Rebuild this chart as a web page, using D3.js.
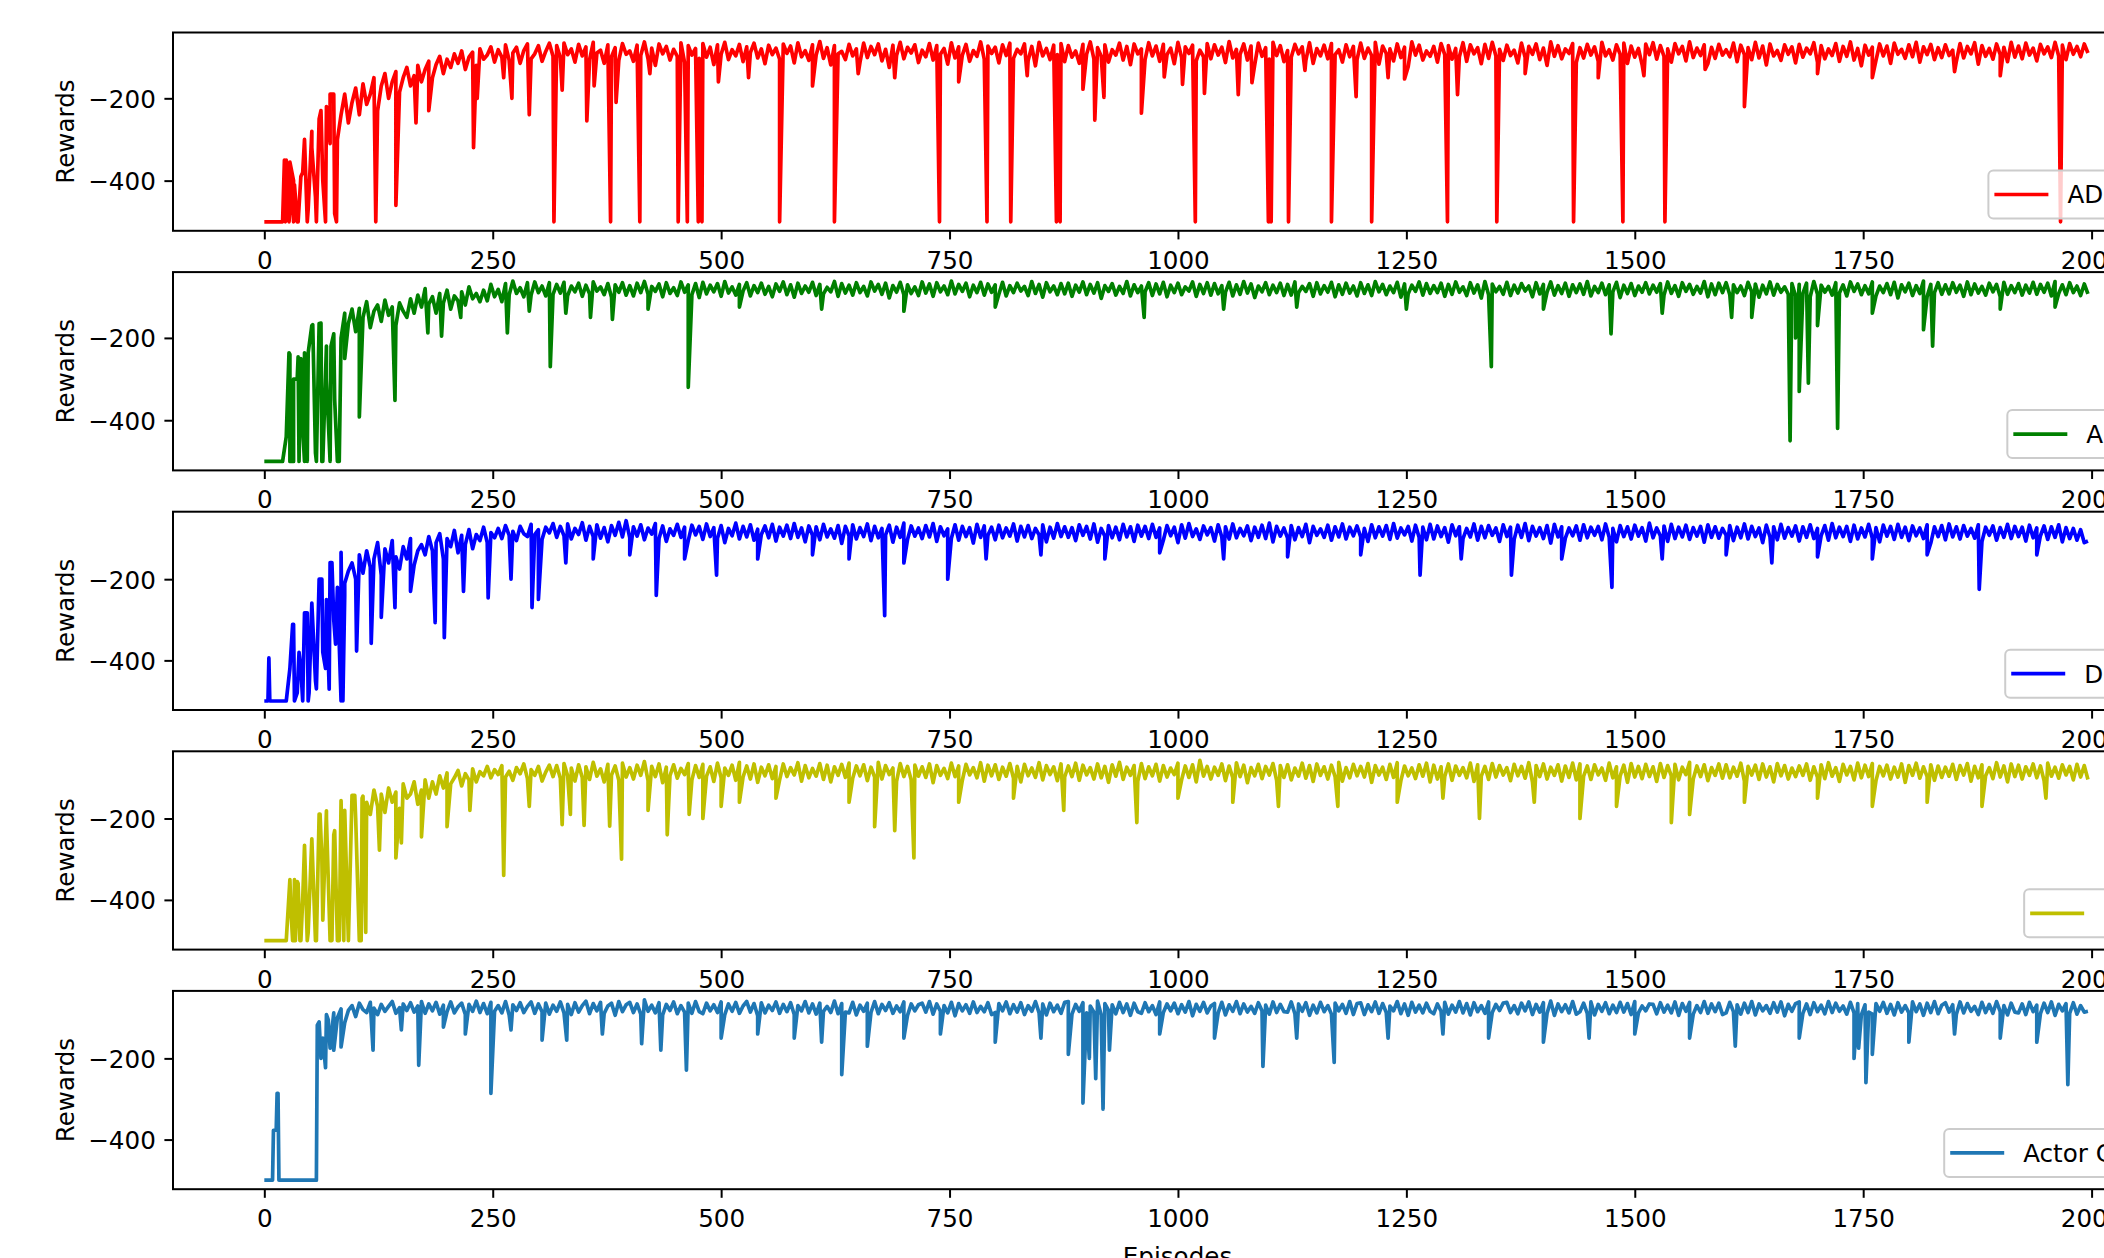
<!DOCTYPE html>
<html>
<head>
<meta charset="utf-8">
<script src="https://cdn.jsdelivr.net/npm/d3@7"></script>
<style>
  html, body { margin: 0; padding: 0; background: #fff; overflow: hidden; }
  svg { display: block; font-family: "DejaVu Sans", sans-serif; }
</style>
</head>
<body>
<div id="chart"></div>
<script>
// ---- data (rewards sampled every 4 episodes, plus single-episode spikes) ----
const nEpisodes = 2000;
const sampleStep = 4;
const xTicks = [0, 250, 500, 750, 1000, 1250, 1500, 1750, 2000];
const yTicks = [-400, -200];
const seriesLabels = ["ADDQN", "ADQN", "DDQN", "DQN", "Actor Critic"];

const addqnRewards = [
  -500,-500,-500,-500,-500,-500,-350,-480,-400,-500,-390,-300,-470,-280,-440,-250,-400,-220,-310,-190,
  -300,-240,-190,-260,-210,-175,-240,-165,-215,-190,-150,-230,-170,-140,-200,-160,-135,-185,-150,-125,
  -170,-145,-120,-160,-130,-110,-150,-118,-98,-140,-105,-125,-92,-115,-85,-130,-100,-88,-120,-80,
  -105,-95,-75,-112,-82,-100,-70,-108,-90,-76,-115,-84,-68,-104,-92,-72,-110,-86,-66,-98,
  -72,-101,-66,-94,-80,-112,-69,-97,-75,-106,-64,-90,-83,-115,-70,-99,-77,-108,-67,-93,
  -85,-110,-71,-96,-63,-104,-78,-120,-68,-92,-74,-107,-81,-98,-65,-113,-72,-95,-79,-103,
  -67,-100,-76,-118,-70,-93,-64,-106,-82,-97,-69,-111,-75,-89,-66,-102,-80,-116,-71,-94,
  -78,-105,-68,-91,-73,-114,-65,-99,-84,-108,-70,-95,-62,-103,-77,-119,-72,-92,-86,-106,
  -69,-97,-80,-112,-66,-101,-74,-94,-68,-109,-81,-125,-71,-96,-64,-104,-76,-90,-70,-113,
  -83,-99,-67,-107,-72,-93,-79,-117,-65,-102,-75,-95,-69,-110,-84,-98,-63,-105,-73,-91,
  -76,-114,-70,-96,-66,-103,-81,-92,-68,-108,-74,-121,-64,-97,-79,-106,-71,-94,-67,-111,
  -72,-100,-85,-115,-69,-93,-63,-104,-77,-98,-70,-112,-82,-95,-66,-107,-74,-118,-68,-92,
  -80,-106,-65,-97,-73,-110,-69,-94,-78,-116,-64,-101,-75,-91,-71,-109,-83,-99,-67,-104,
  -70,-95,-76,-113,-62,-102,-81,-93,-68,-107,-73,-119,-66,-98,-77,-105,-64,-96,-72,-111,
  -84,-100,-69,-92,-75,-108,-65,-115,-79,-97,-71,-104,-67,-94,-82,-112,-70,-99,-74,-106,
  -66,-103,-78,-96,-64,-117,-73,-91,-80,-109,-68,-101,-76,-123,-63,-95,-71,-107,-85,-98,
  -74,-112,-67,-94,-72,-105,-79,-99,-65,-110,-70,-92,-77,-116,-69,-103,-64,-97,-81,-108,
  -71,-96,-83,-114,-66,-101,-74,-93,-68,-106,-78,-120,-63,-98,-72,-104,-80,-91,-67,-113,
  -77,-102,-69,-95,-75,-110,-64,-97,-82,-107,-70,-93,-66,-115,-73,-100,-79,-118,-68,-94,
  -65,-105,-72,-98,-80,-112,-67,-92,-74,-109,-63,-101,-78,-96,-70,-116,-76,-103,-69,-95,
  -82,-99,-66,-111,-71,-94,-77,-106,-64,-102,-73,-119,-68,-97,-84,-108,-70,-93,-75,-114,
  -69,-100,-78,-92,-65,-113,-72,-104,-80,-96,-67,-110,-74,-98,-63,-107,-79,-121,-71,-95,
  -76,-108,-68,-97,-73,-115,-66,-93,-81,-103,-70,-99,-64,-112,-75,-94,-69,-106,-77,-101,
  -70,-96,-83,-110,-67,-102,-74,-92,-65,-117,-72,-98,-79,-105,-68,-94,-76,-111,-64,-100,
  -73,-104,-66,-95,-78,-109,-69,-92,-75,-101,-64,-97,-71,-106,-67,-93,-74,-99,-68,-90
];
const addqnSpikes = [
  [22,-350],[23,-500],[27,-500],[28,-355],[32,-500],[33,-410],[37,-500],[42,-380],[47,-500],[52,-320],
  [57,-500],[62,-230],[67,-500],[72,-190],[77,-480],[79,-500],
  [122,-500],[144,-460],[166,-260],[180,-230],[229,-320],[233,-200],[262,-150],[271,-200],[290,-240],
  [317,-500],[326,-180],[353,-255],[361,-170],[379,-500],[385,-210],[411,-500],[422,-140],[453,-500],
  [463,-500],[475,-500],[479,-500],[497,-160],[530,-150],[564,-500],[600,-170],[624,-500],[650,-140],
  [690,-150],[739,-500],[760,-160],[791,-500],[817,-500],[835,-145],[867,-500],[871,-500],[896,-178],
  [909,-253],[919,-198],[960,-236],[985,-148],[1005,-166],[1019,-500],[1029,-188],[1066,-191],[1081,-162],
  [1099,-500],[1102,-500],[1121,-500],[1139,-132],[1168,-500],[1195,-196],[1212,-500],[1230,-150],
  [1248,-153],[1295,-500],[1306,-191],[1349,-500],[1380,-140],[1433,-500],[1460,-150],[1487,-500],
  [1510,-145],[1533,-500],[1577,-130],[1620,-220],[1700,-140],[1760,-150],[1850,-135],[1900,-145],[1966,-500]
];

const adqnRewards = [
  -500,-500,-500,-500,-500,-500,-440,-240,-500,-300,-250,-500,-236,-170,-480,-165,-500,-220,-500,-190,
  -500,-200,-140,-165,-130,-185,-128,-150,-112,-175,-135,-120,-160,-108,-145,-125,-170,-115,-135,-150,
  -105,-140,-96,-125,-80,-118,-100,-140,-92,-115,-84,-130,-98,-110,-88,-120,-76,-105,-92,-112,
  -84,-110,-70,-100,-82,-112,-68,-95,-62,-92,-78,-100,-66,-96,-64,-90,-74,-98,-66,-94,
  -70,-91,-65,-97,-74,-88,-67,-99,-72,-93,-64,-86,-76,-95,-68,-101,-71,-89,-66,-96,
  -73,-98,-67,-90,-63,-94,-75,-87,-69,-100,-66,-92,-78,-97,-64,-89,-71,-95,-68,-102,
  -65,-93,-72,-88,-68,-99,-63,-91,-76,-96,-70,-86,-66,-98,-73,-90,-67,-94,-75,-100,
  -69,-87,-64,-95,-71,-101,-67,-92,-74,-89,-65,-97,-70,-93,-77,-88,-63,-99,-68,-91,
  -72,-96,-66,-90,-75,-98,-64,-86,-70,-94,-67,-103,-73,-89,-65,-95,-71,-92,-76,-97,
  -64,-91,-69,-99,-66,-88,-74,-95,-62,-93,-70,-87,-67,-100,-72,-90,-65,-96,-69,-89,
  -71,-94,-65,-98,-73,-90,-67,-86,-75,-97,-63,-92,-70,-101,-66,-88,-74,-95,-68,-93,
  -67,-99,-72,-89,-64,-95,-70,-91,-66,-104,-73,-87,-68,-96,-75,-92,-63,-98,-71,-90,
  -74,-88,-66,-97,-69,-93,-65,-100,-72,-90,-67,-95,-76,-86,-64,-99,-70,-92,-66,-96,
  -68,-93,-73,-89,-65,-98,-71,-94,-63,-91,-69,-102,-74,-88,-66,-95,-72,-90,-67,-97,
  -70,-96,-64,-90,-75,-87,-68,-99,-66,-93,-73,-89,-65,-100,-71,-94,-67,-91,-74,-98,
  -66,-92,-71,-97,-63,-88,-70,-95,-74,-90,-65,-101,-69,-93,-72,-87,-64,-96,-68,-92,
  -73,-90,-67,-99,-70,-94,-64,-89,-76,-97,-66,-91,-71,-103,-63,-95,-69,-88,-75,-94,
  -65,-97,-72,-91,-68,-86,-74,-100,-66,-93,-70,-89,-64,-96,-73,-92,-67,-99,-71,-90,
  -69,-94,-63,-98,-75,-90,-67,-95,-71,-88,-65,-102,-72,-92,-68,-97,-74,-89,-66,-93,
  -72,-89,-68,-96,-64,-92,-73,-99,-66,-87,-70,-94,-75,-91,-63,-100,-69,-95,-67,-90,
  -66,-95,-71,-90,-74,-97,-65,-88,-69,-101,-72,-93,-64,-96,-70,-89,-76,-94,-68,-98,
  -70,-92,-67,-100,-63,-94,-72,-89,-75,-96,-66,-91,-71,-98,-64,-87,-69,-95,-73,-93,
  -64,-98,-74,-90,-68,-95,-65,-103,-71,-88,-67,-97,-73,-92,-62,-99,-70,-90,-66,-94,
  -71,-93,-66,-89,-72,-99,-64,-95,-69,-91,-75,-96,-67,-88,-70,-100,-65,-94,-73,-90,
  -68,-96,-72,-91,-65,-94,-70,-89,-67,-98,-63,-92,-71,-95,-66,-90,-74,-97,-69,-93
];
const adqnSpikes = [
  [27,-236],[28,-500],[32,-300],[37,-246],[38,-500],[42,-420],[44,-236],[47,-500],[53,-168],[57,-500],
  [62,-164],[63,-500],[68,-300],[73,-220],[77,-350],[82,-500],[88,-250],
  [104,-392],[143,-352],[179,-188],[194,-196],[215,-150],[266,-188],[290,-135],[313,-270],[330,-140],
  [357,-150],[381,-155],[420,-130],[464,-320],[520,-125],[610,-130],[700,-135],[800,-125],[963,-150],
  [1050,-130],[1130,-125],[1250,-130],[1343,-270],[1400,-130],[1474,-190],[1530,-140],[1606,-150],
  [1628,-150],[1670,-450],[1676,-200],[1680,-330],[1690,-310],[1700,-170],[1722,-420],[1760,-140],
  [1816,-180],[1826,-220],[1900,-130],[1960,-125]
];

const ddqnRewards = [
  -500,-500,-500,-500,-500,-500,-500,-420,-311,-480,-420,-283,-500,-259,-450,-200,-380,-250,-159,-300,
  -220,-500,-240,-180,-160,-200,-140,-185,-130,-170,-150,-110,-190,-125,-160,-105,-145,-175,-120,-150,
  -100,-165,-130,-115,-140,-95,-130,-110,-88,-150,-100,-120,-80,-135,-92,-115,-78,-125,-90,-105,
  -72,-110,-85,-98,-75,-100,-68,-92,-82,-105,-70,-88,-95,-65,-90,-78,-102,-72,-86,-63,
  -97,-70,-93,-64,-101,-75,-90,-61,-104,-70,-95,-66,-99,-73,-108,-68,-92,-60,-96,-56,
  -98,-71,-94,-66,-103,-74,-89,-63,-100,-69,-107,-76,-92,-65,-97,-72,-105,-67,-91,-70,
  -102,-64,-95,-73,-99,-68,-110,-75,-93,-62,-101,-70,-96,-66,-104,-77,-90,-69,-98,-65,
  -106,-72,-94,-67,-100,-63,-97,-74,-108,-69,-92,-71,-103,-65,-96,-76,-99,-68,-112,-70,
  -93,-66,-101,-73,-95,-64,-105,-70,-98,-75,-91,-67,-109,-72,-97,-62,-102,-69,-94,-74,
  -100,-68,-96,-63,-107,-71,-93,-76,-99,-66,-104,-70,-95,-73,-111,-65,-97,-69,-92,-72,
  -103,-67,-98,-74,-94,-64,-106,-70,-96,-68,-100,-75,-91,-66,-108,-72,-99,-63,-95,-71,
  -97,-73,-105,-66,-92,-70,-101,-64,-109,-75,-94,-68,-98,-72,-103,-65,-96,-71,-107,-67,
  -94,-70,-100,-65,-97,-74,-104,-68,-93,-72,-110,-66,-99,-63,-95,-76,-102,-69,-91,-73,
  -106,-66,-96,-71,-101,-64,-98,-75,-93,-69,-105,-72,-97,-67,-100,-62,-108,-70,-94,-74,
  -99,-68,-103,-73,-95,-65,-110,-70,-92,-76,-97,-67,-104,-71,-96,-64,-101,-72,-93,-69,
  -96,-75,-107,-66,-98,-71,-94,-68,-102,-63,-99,-74,-91,-70,-106,-67,-97,-72,-103,-65,
  -101,-69,-95,-73,-109,-66,-93,-71,-100,-75,-96,-64,-104,-70,-98,-68,-92,-74,-107,-66,
  -95,-72,-102,-67,-97,-63,-105,-70,-94,-73,-100,-68,-111,-65,-96,-71,-99,-74,-93,-69,
  -104,-66,-98,-72,-92,-70,-103,-64,-97,-75,-108,-68,-95,-71,-101,-67,-94,-73,-106,-62,
  -98,-74,-93,-69,-107,-65,-100,-72,-96,-67,-102,-73,-94,-70,-109,-66,-97,-71,-99,-75,
  -92,-68,-105,-72,-98,-64,-101,-70,-95,-74,-110,-67,-96,-71,-103,-65,-99,-73,-94,-69,
  -106,-71,-97,-66,-100,-75,-93,-68,-104,-63,-98,-72,-95,-70,-107,-67,-101,-74,-96,-65,
  -99,-73,-108,-67,-94,-70,-102,-65,-97,-72,-105,-69,-93,-74,-100,-66,-111,-71,-95,-68,
  -103,-64,-96,-71,-101,-68,-94,-75,-99,-66,-107,-72,-92,-69,-104,-73,-97,-65,-100,-70,
  -95,-72,-106,-67,-98,-74,-93,-69,-102,-71,-97,-66,-108,-73,-100,-75,-104,-78,-110,-106
];
const ddqnSpikes = [
  [5,-394],[6,-500],[31,-311],[33,-500],[38,-380],[42,-500],[47,-283],[49,-480],[52,-259],
  [57,-470],[63,-200],[67,-420],[71,-471],[74,-159],[78,-360],[84,-134],[86,-500],[88,-210],
  [101,-377],[117,-358],[128,-294],[143,-270],[160,-230],[187,-307],[197,-344],[218,-230],[245,-246],
  [270,-200],[293,-270],[300,-250],[330,-160],[360,-150],[400,-140],[429,-240],[460,-150],[495,-190],
  [540,-150],[600,-140],[640,-150],[679,-290],[700,-160],[748,-200],[790,-150],[850,-140],[920,-150],
  [980,-135],[1050,-150],[1120,-145],[1200,-140],[1265,-190],[1310,-150],[1365,-190],[1420,-150],
  [1475,-220],[1530,-150],[1600,-140],[1650,-160],[1700,-145],[1760,-150],[1820,-140],[1877,-225],[1940,-140]
];

const dqnRewards = [
  -500,-500,-500,-500,-500,-500,-500,-350,-500,-355,-500,-266,-480,-250,-500,-189,-450,-181,-500,-240,
  -500,-156,-180,-500,-143,-200,-500,-145,-160,-190,-130,-170,-140,-185,-125,-160,-135,-175,-115,-150,
  -140,-110,-165,-130,-105,-150,-110,-140,-95,-125,-88,-115,-100,-82,-120,-90,-105,-78,-110,-85,
  -95,-72,-100,-80,-92,-70,-98,-84,-106,-75,-90,-66,-102,-80,-94,-72,-108,-86,-69,-97,
  -70,-101,-65,-95,-76,-108,-68,-99,-73,-104,-62,-96,-78,-110,-67,-93,-71,-106,-64,-98,
  -75,-103,-69,-94,-60,-107,-72,-97,-66,-112,-74,-95,-68,-101,-77,-92,-65,-105,-70,-99,
  -67,-96,-73,-109,-64,-100,-76,-94,-69,-106,-62,-98,-71,-103,-66,-111,-74,-95,-68,-102,
  -72,-105,-66,-97,-75,-93,-63,-108,-70,-100,-77,-96,-65,-104,-69,-110,-73,-94,-67,-99,
  -64,-101,-71,-95,-68,-107,-74,-98,-62,-103,-70,-92,-76,-109,-65,-97,-72,-105,-69,-96,
  -73,-99,-66,-112,-70,-94,-77,-102,-64,-97,-71,-106,-67,-93,-75,-100,-63,-108,-69,-95,
  -68,-104,-74,-96,-65,-101,-72,-110,-67,-95,-76,-99,-63,-105,-70,-92,-73,-107,-66,-98,
  -71,-97,-64,-106,-69,-93,-75,-103,-66,-100,-72,-111,-68,-96,-62,-104,-74,-94,-70,-109,
  -65,-102,-73,-95,-67,-108,-70,-98,-76,-92,-64,-105,-71,-99,-68,-110,-57,-96,-72,-103,
  -74,-94,-66,-107,-71,-100,-63,-97,-69,-112,-75,-95,-67,-102,-72,-93,-65,-106,-70,-99,
  -68,-105,-76,-96,-64,-101,-70,-109,-66,-94,-73,-103,-69,-97,-62,-108,-75,-100,-67,-95,
  -72,-98,-65,-111,-70,-93,-74,-104,-67,-99,-63,-107,-71,-95,-76,-102,-68,-96,-64,-110,
  -69,-103,-73,-97,-66,-106,-71,-94,-75,-100,-64,-109,-68,-96,-72,-104,-65,-98,-70,-93,
  -75,-107,-67,-95,-72,-101,-63,-110,-70,-97,-66,-103,-74,-94,-68,-108,-71,-99,-64,-105,
  -66,-96,-71,-104,-68,-93,-76,-106,-64,-100,-73,-95,-69,-111,-65,-98,-72,-102,-67,-97,
  -73,-109,-65,-99,-70,-95,-67,-105,-74,-92,-62,-103,-71,-97,-68,-107,-75,-94,-66,-101,
  -68,-100,-74,-96,-64,-108,-72,-93,-69,-104,-66,-98,-73,-110,-65,-95,-70,-103,-76,-97,
  -71,-94,-66,-106,-73,-99,-68,-102,-63,-96,-75,-109,-67,-93,-72,-105,-64,-100,-69,-97,
  -65,-107,-72,-95,-69,-103,-74,-98,-66,-111,-70,-94,-64,-101,-73,-97,-68,-106,-71,-99,
  -74,-96,-67,-104,-70,-93,-65,-108,-72,-100,-68,-95,-75,-102,-63,-98,-71,-110,-66,-97,
  -69,-103,-73,-94,-66,-100,-71,-107,-64,-96,-74,-101,-68,-93,-72,-105,-67,-98,-70,-104
];
const dqnSpikes = [
  [29,-420],[31,-500],[33,-350],[34,-500],[37,-360],[39,-500],[42,-400],[47,-500],
  [57,-500],[61,-189],[63,-300],[68,-200],[74,-500],[77,-230],[82,-500],[87,-500],
  [99,-143],[106,-500],[107,-150],[111,-480],
  [126,-278],[144,-297],[150,-260],[172,-245],[200,-220],[225,-180],[262,-340],[290,-170],[326,-215],
  [335,-190],[350,-217],[378,-219],[391,-300],[420,-180],[441,-240],[465,-190],[480,-200],[500,-170],
  [520,-160],[560,-150],[640,-160],[668,-220],[690,-230],[711,-297],[760,-160],[820,-150],[875,-180],
  [955,-210],[1000,-150],[1060,-160],[1110,-170],[1175,-170],[1240,-160],[1290,-150],[1330,-200],
  [1390,-160],[1440,-200],[1480,-170],[1540,-210],[1560,-190],[1620,-160],[1700,-150],[1760,-170],
  [1820,-160],[1880,-170],[1950,-150]
];

const actorCriticRewards = [
  -500,-500,-500,-377,-500,-500,-500,-500,-500,-500,-500,-500,-500,-500,-500,-110,-150,-92,-175,-88,
  -100,-78,-112,-82,-70,-97,-64,-80,-87,-62,-76,-92,-67,-84,-72,-60,-89,-75,-66,-82,
  -63,-86,-71,-60,-89,-66,-83,-62,-91,-69,-85,-61,-88,-73,-64,-92,-67,-84,-59,-87,
  -65,-90,-62,-84,-70,-88,-60,-93,-68,-82,-63,-87,-72,-61,-89,-66,-85,-64,-91,-69,
  -84,-61,-88,-67,-92,-63,-86,-70,-59,-90,-65,-83,-62,-89,-71,-64,-94,-60,-85,-68,
  -62,-87,-66,-91,-56,-84,-69,-88,-63,-93,-67,-82,-61,-90,-70,-86,-64,-89,-60,-85,
  -90,-64,-83,-68,-87,-61,-92,-66,-84,-62,-89,-71,-60,-86,-65,-95,-63,-88,-69,-82,
  -61,-89,-67,-85,-63,-92,-70,-83,-60,-88,-66,-91,-64,-84,-72,-87,-59,-90,-65,-86,
  -88,-62,-93,-69,-84,-64,-87,-60,-90,-67,-82,-63,-89,-71,-85,-61,-94,-66,-83,-68,
  -64,-86,-60,-91,-66,-84,-70,-88,-62,-95,-65,-83,-68,-89,-61,-87,-72,-85,-63,-92,
  -87,-65,-83,-61,-90,-68,-86,-63,-92,-70,-84,-60,-88,-66,-93,-64,-85,-69,-89,-62,
  -60,-91,-67,-84,-63,-88,-71,-86,-59,-93,-65,-82,-68,-90,-62,-87,-66,-94,-64,-85,
  -89,-63,-85,-70,-92,-61,-87,-66,-83,-64,-90,-68,-86,-60,-95,-67,-84,-62,-88,-71,
  -65,-88,-62,-93,-68,-84,-60,-90,-66,-86,-72,-89,-63,-83,-69,-91,-61,-87,-67,-85,
  -86,-61,-90,-66,-84,-63,-94,-69,-88,-62,-85,-70,-91,-64,-83,-67,-89,-60,-92,-65,
  -63,-92,-68,-85,-61,-89,-65,-87,-71,-83,-60,-90,-66,-94,-62,-86,-69,-88,-64,-84,
  -90,-66,-84,-62,-91,-69,-86,-60,-88,-65,-93,-63,-85,-70,-89,-61,-87,-67,-82,-64,
  -62,-87,-70,-90,-64,-83,-61,-92,-67,-86,-63,-89,-59,-94,-66,-85,-68,-88,-60,-91,
  -85,-64,-89,-61,-93,-67,-84,-63,-90,-69,-87,-62,-86,-65,-92,-60,-88,-71,-83,-66,
  -67,-90,-63,-86,-69,-88,-61,-94,-65,-84,-62,-91,-70,-87,-60,-89,-66,-85,-64,-92,
  -88,-62,-85,-68,-91,-64,-87,-60,-93,-66,-83,-70,-89,-63,-86,-61,-95,-67,-84,-65,
  -61,-89,-66,-92,-63,-85,-69,-90,-60,-87,-64,-84,-71,-91,-62,-88,-65,-93,-68,-86,
  -91,-65,-84,-62,-89,-67,-93,-63,-86,-70,-88,-61,-85,-66,-94,-64,-87,-60,-90,-69,
  -63,-86,-68,-91,-61,-88,-65,-84,-72,-92,-62,-87,-67,-89,-60,-85,-70,-93,-64,-86,
  -88,-66,-92,-62,-85,-69,-90,-64,-87,-61,-94,-67,-83,-65,-89,-63,-91,-70,-86,-84
];
const actorCriticSpikes = [
  [9,-500],[10,-377],[13,-377],[14,-286],[15,-286],[16,-500],
  [57,-500],[58,-118],[62,-200],[67,-223],[70,-105],[76,-180],[84,-172],
  [119,-180],[150,-130],[169,-217],[196,-123],[220,-140],[248,-286],[270,-130],[304,-155],[331,-155],
  [370,-140],[413,-164],[434,-180],[462,-229],[500,-150],[540,-140],[580,-150],[610,-160],[632,-240],
  [660,-170],[700,-150],[740,-140],[800,-160],[850,-150],[880,-190],[896,-310],[903,-200],[910,-250],
  [918,-325],[925,-180],[980,-140],[1040,-150],[1093,-220],[1130,-150],[1171,-210],[1230,-150],
  [1290,-140],[1340,-150],[1400,-160],[1450,-150],[1500,-140],[1560,-150],[1610,-170],[1680,-150],
  [1740,-200],[1745,-175],[1753,-260],[1760,-190],[1800,-160],[1850,-140],[1900,-150],[1940,-160],[1974,-265]
];

// ---- layout ----
const W = 2104, H = 1258;
const fontSize = 24.6;
const axLeft = 173, axRight = 2182;
const panelTop0 = 32.5, panelStep = 239.6, panelH = 198.3;
const tickLen = 8.6;

const panels = [
  { label: seriesLabels[0], color: "#ff0000", base: addqnRewards, spikes: addqnSpikes },
  { label: seriesLabels[1], color: "#008000", base: adqnRewards, spikes: adqnSpikes },
  { label: seriesLabels[2], color: "#0000ff", base: ddqnRewards, spikes: ddqnSpikes },
  { label: seriesLabels[3], color: "#bfbf00", base: dqnRewards, spikes: dqnSpikes },
  { label: seriesLabels[4], color: "#1f77b4", base: actorCriticRewards, spikes: actorCriticSpikes }
];

function buildSeries(base, spikes) {
  const pts = base.map((v, i) => ({ ep: i * sampleStep, v: v }));
  spikes.forEach(d => pts.push({ ep: d[0], v: d[1] }));
  return pts.sort((a, b) => a.ep - b.ep);
}

const svg = d3.select("#chart").append("svg")
    .attr("width", W)
    .attr("height", H);

// shared x scale, matplotlib-style 5% margins
const xSpan = nEpisodes - 1;
const x = d3.scaleLinear()
    .domain([-0.05 * xSpan, xSpan * 1.05])
    .range([axLeft, axRight]);

panels.forEach((p, i) => {
    const top = panelTop0 + i * panelStep;
    const g = svg.append("g").attr("transform", `translate(0,${top})`);

    const pts = buildSeries(p.base, p.spikes);
    const [lo, hi] = d3.extent(pts, d => d.v);
    const pad = (hi - lo) * 0.05;
    const y = d3.scaleLinear()
        .domain([lo - pad, hi + pad])
        .range([panelH, 0]);

    g.append("clipPath").attr("id", "clip" + i)
      .append("rect")
        .attr("x", axLeft).attr("y", 0)
        .attr("width", axRight - axLeft).attr("height", panelH);

    // reward line
    const line = d3.line()
        .x(d => x(d.ep))
        .y(d => y(d.v));

    g.append("path")
        .datum(pts)
        .attr("clip-path", `url(#clip${i})`)
        .attr("fill", "none")
        .attr("stroke", p.color)
        .attr("stroke-width", 3.7)
        .attr("stroke-linejoin", "round")
        .attr("d", line);

    // axes
    const xAxis = d3.axisBottom(x)
        .tickValues(xTicks)
        .tickFormat(d3.format("d"))
        .tickSize(tickLen)
        .tickPadding(11.9);

    const yAxis = d3.axisLeft(y)
        .tickValues(yTicks)
        .tickFormat(d3.format("d"))
        .tickSize(tickLen)
        .tickPadding(tickLen);

    const gx = g.append("g")
        .attr("transform", `translate(0,${panelH})`)
        .call(xAxis);
    const gy = g.append("g")
        .attr("transform", `translate(${axLeft},0)`)
        .call(yAxis);

    [gx, gy].forEach(a => {
        a.select(".domain").remove();
        a.attr("font-size", fontSize)
         .attr("font-family", "DejaVu Sans, sans-serif")
         .attr("color", "#000");
        a.selectAll(".tick line").attr("stroke-width", 2);
    });
    gy.selectAll(".tick text").attr("dy", "0.36em");

    // frame
    g.append("rect")
        .attr("x", axLeft).attr("y", 0)
        .attr("width", axRight - axLeft).attr("height", panelH)
        .attr("fill", "none")
        .attr("stroke", "#000")
        .attr("stroke-width", 2);

    // y label
    g.append("text")
        .attr("transform", `translate(74,${panelH / 2}) rotate(-90)`)
        .attr("text-anchor", "middle")
        .attr("font-size", fontSize)
        .attr("fill", "#000")
        .text("Rewards");

    // legend, lower right (runs past the right edge, as in the source figure)
    const lg = g.append("g");
    const boxRight = axRight - 0.5 * fontSize;
    const boxBottom = panelH - 0.5 * fontSize;
    const boxH = 48;
    const midY = boxBottom - boxH / 2;
    const rect = lg.append("rect");
    const txt = lg.append("text")
        .attr("font-size", fontSize)
        .attr("fill", "#000")
        .attr("y", midY)
        .attr("dy", "0.36em")
        .text(p.label);
    const tw = txt.node().getComputedTextLength();
    const textX = boxRight - 0.4 * fontSize - tw;
    txt.attr("x", textX);
    rect.attr("x", textX - 79)
        .attr("y", boxBottom - boxH)
        .attr("width", boxRight - (textX - 79))
        .attr("height", boxH)
        .attr("rx", 5)
        .attr("fill", "#fff")
        .attr("fill-opacity", 0.8)
        .attr("stroke", "#cccccc")
        .attr("stroke-width", 2);
    lg.append("line")
        .attr("x1", textX - 73).attr("x2", textX - 19)
        .attr("y1", midY).attr("y2", midY)
        .attr("stroke", p.color)
        .attr("stroke-width", 3.7);

    if (i === panels.length - 1) {
        g.append("text")
            .attr("x", (axLeft + axRight) / 2)
            .attr("y", panelH + 76)
            .attr("text-anchor", "middle")
            .attr("font-size", fontSize)
            .attr("fill", "#000")
            .text("Episodes");
    }
});
</script>
</body>
</html>
